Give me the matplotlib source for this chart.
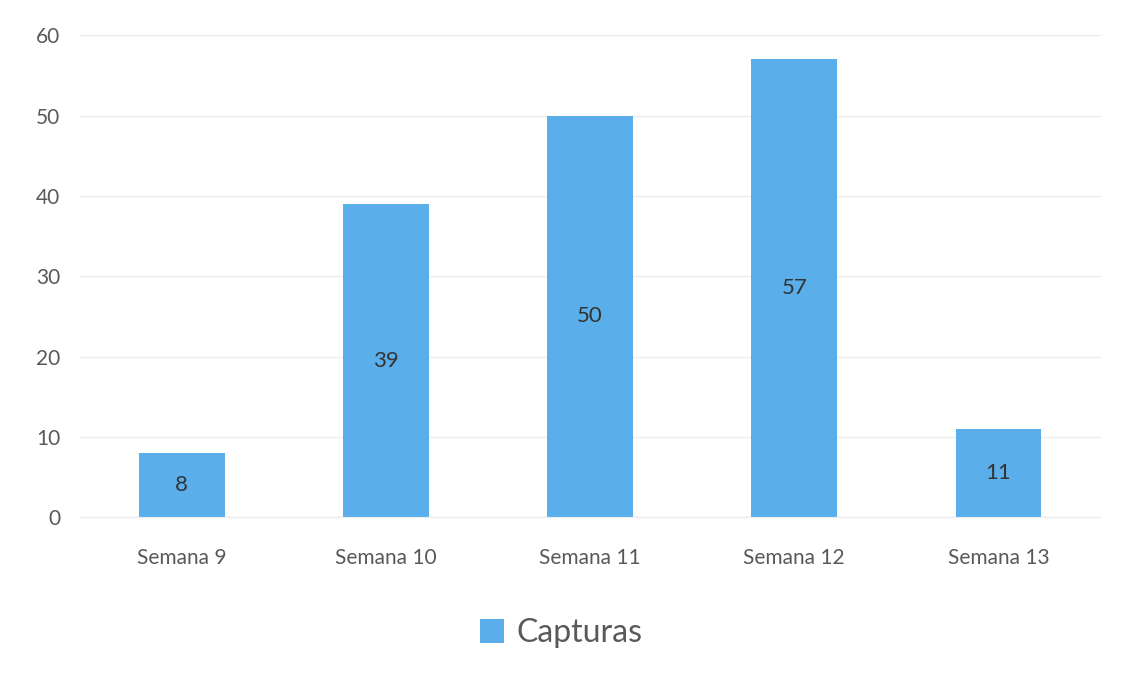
import matplotlib.pyplot as plt
import numpy as np

semanas = ["Semana 9", "Semana 10", "Semana 11", "Semana 12", "Semana 13"]
capturas = [8, 39, 50, 57, 11]
y_ticks = [0, 10, 20, 30, 40, 50, 60]

BAR = "#5aafea"
plt.rcParams["font.family"] = ["Lato", "DejaVu Sans"]

fig = plt.figure(figsize=(11.23, 6.77), dpi=100)
ax = fig.add_axes([0.071, 0.236, 0.909, 0.712])

x = np.arange(len(semanas))
bars = ax.bar(x, capturas, width=0.42, color=BAR, label="Capturas", zorder=2)

for b, v in zip(bars, capturas):
    ax.text(b.get_x() + b.get_width() / 2, v / 2, str(v), ha="center", va="center",
            fontsize=16, color="#333333", zorder=3)

ax.set_xlim(-0.5, len(semanas) - 0.5)
ax.set_ylim(0, 60)
ax.set_yticks(y_ticks)
ax.set_xticks(x)
ax.set_xticklabels(semanas)
ax.tick_params(axis="y", length=0, labelsize=15, labelcolor="#595959", pad=14)
ax.tick_params(axis="x", length=0, labelsize=15, labelcolor="#595959", pad=22)
ax.grid(axis="y", color="#ececec", linewidth=1, zorder=0)
for s in ax.spines.values():
    s.set_visible(False)
ax.spines["bottom"].set_visible(True)
ax.spines["bottom"].set_color("#ececec")

fig.legend(handles=[bars], labels=["Capturas"], loc="center", bbox_to_anchor=(0.5, 0.065),
           frameon=False, fontsize=23, labelcolor="#595959", handlelength=0.75,
           handleheight=0.75, handletextpad=0.4)

fig.savefig("out.png", dpi=100, facecolor="white")
